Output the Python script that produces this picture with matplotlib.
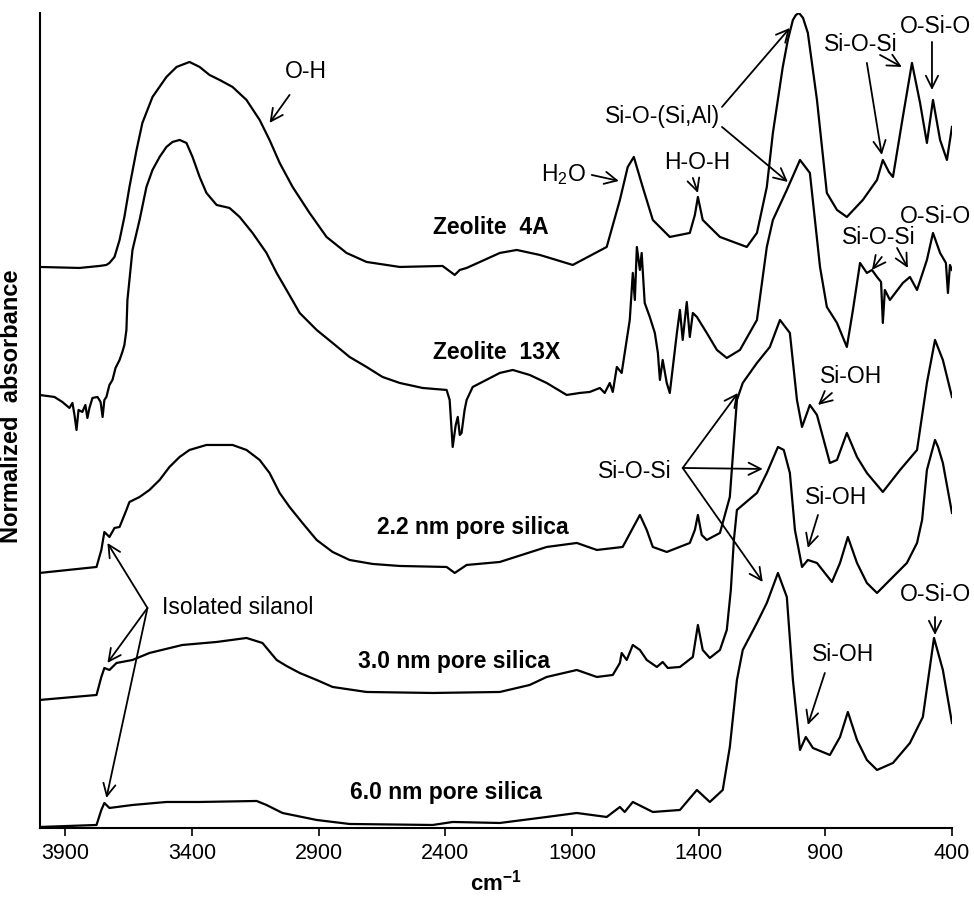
import matplotlib
matplotlib.use("Agg")
import matplotlib.pyplot as plt

plt.rcParams['font.family'] = ['Liberation Sans', 'DejaVu Sans']
plt.rcParams['mathtext.fontset'] = 'custom'
plt.rcParams['mathtext.rm'] = 'Liberation Sans'
plt.rcParams['mathtext.bf'] = 'Liberation Sans:bold'

# FTIR spectra (wavenumber in cm-1, stacked normalized absorbance)
wn_4a = [4002, 3844, 3765, 3738, 3726, 3706, 3686, 3667, 3647, 3619, 3596, 3556, 3501,
         3461, 3410, 3370, 3331, 3291, 3240, 3185, 3133, 3094, 3054, 3003, 2936, 2869,
         2790, 2711, 2580, 2411, 2363, 2343, 2316, 2185, 2118, 2027, 1897,
         1763, 1711, 1680, 1656, 1621, 1581, 1514, 1435, 1415, 1403, 1384, 1316, 1210,
         1170, 1131, 1107, 1068, 1048, 1028, 1016, 1004, 988, 969, 933, 894, 854, 815, 752,
         696, 673, 649, 633, 594, 558, 526, 499, 475, 447, 420, 400]
abs_4a = [5.61, 5.60, 5.62, 5.63, 5.65, 5.71, 5.88, 6.11, 6.41, 6.78, 7.05, 7.31, 7.51,
          7.61, 7.66, 7.61, 7.53, 7.48, 7.41, 7.28, 7.08, 6.88, 6.65, 6.41, 6.15, 5.91,
          5.75, 5.66, 5.61, 5.62, 5.53, 5.58, 5.60, 5.75, 5.78, 5.73, 5.63,
          5.81, 6.28, 6.61, 6.71, 6.41, 6.08, 5.91, 5.95, 6.13, 6.31, 6.08, 5.91, 5.81,
          5.95, 6.41, 6.95, 7.61, 7.88, 8.08, 8.13, 8.15, 8.10, 7.95, 7.28, 6.35, 6.18, 6.11, 6.28,
          6.48, 6.68, 6.56, 6.51, 7.11, 7.65, 7.25, 6.85, 7.28, 6.88, 6.68, 7.01]

wn_13x = [4002, 3943, 3912, 3884, 3872, 3864, 3856, 3848, 3833, 3821, 3813, 3805, 3793,
          3773, 3761, 3753, 3746, 3738, 3726, 3714, 3702, 3686, 3675, 3667, 3659, 3655,
          3647, 3635, 3607, 3580, 3556, 3528, 3501, 3477, 3449, 3422, 3398, 3370, 3343,
          3303, 3252, 3212, 3161, 3106, 3066, 3027, 2975, 2908, 2845, 2778, 2711, 2648,
          2580, 2490, 2395, 2383, 2371, 2359, 2351,
          2343, 2336, 2324, 2316, 2292, 2185, 2134, 2067, 2000, 1921, 1869, 1830, 1790,
          1771, 1751, 1739, 1723, 1704, 1692, 1672, 1660, 1652, 1644, 1632, 1625, 1613,
          1593, 1573, 1561, 1553, 1542, 1526, 1514, 1502, 1486, 1474, 1463, 1447, 1435,
          1423, 1407, 1368, 1328, 1289, 1237, 1170, 1131, 1107, 1052, 1000, 961, 921, 894,
          854, 815, 791, 763, 736, 716, 696, 680, 673, 665, 645, 594, 566, 538, 499, 475,
          447, 424, 416, 408, 400]
abs_13x = [4.33, 4.31, 4.26, 4.20, 4.25, 4.13, 3.98, 4.18, 4.16, 4.23, 4.10, 4.20, 4.30,
           4.31, 4.26, 4.11, 4.28, 4.31, 4.43, 4.48, 4.60, 4.68, 4.76, 4.83, 4.98, 5.28,
           5.48, 5.78, 6.08, 6.41, 6.58, 6.71, 6.81, 6.86, 6.88, 6.85, 6.71, 6.51, 6.35,
           6.23, 6.20, 6.11, 5.95, 5.75, 5.55, 5.38, 5.15, 4.98, 4.85, 4.71, 4.61, 4.51,
           4.45, 4.40, 4.38, 4.28, 3.81, 4.03, 4.11,
           3.93, 3.95, 4.18, 4.28, 4.41, 4.55, 4.58, 4.53, 4.45, 4.33, 4.35, 4.36, 4.40,
           4.35, 4.45, 4.36, 4.61, 4.55, 4.75, 5.08, 5.55, 5.28, 5.81, 5.58, 5.75, 5.25,
           5.11, 4.95, 4.75, 4.48, 4.68, 4.45, 4.35, 4.61, 4.95, 5.18, 4.88, 5.26, 4.91,
           5.15, 5.11, 4.95, 4.78, 4.70, 4.78, 5.08, 5.81, 6.08, 6.38, 6.68, 6.55, 5.61, 5.21,
           5.05, 4.81, 5.18, 5.65, 5.55, 5.58, 5.51, 5.46, 5.05, 5.38, 5.28, 5.45, 5.51, 5.38,
           5.68, 5.95, 5.75, 5.65, 5.35, 5.63, 5.58]

wn_22 = [4002, 3777, 3758, 3746, 3734, 3726, 3706, 3686, 3659, 3647, 3607, 3568, 3528,
         3489, 3449, 3410, 3343, 3240, 3185, 3133, 3094, 3054, 3015, 2964, 2908, 2845,
         2778, 2687, 2580, 2395, 2363, 2316, 2185, 2000, 1881,
         1802, 1700, 1664, 1632, 1605, 1581, 1526, 1435, 1415, 1403, 1388, 1368, 1316,
         1277, 1249, 1226, 1170, 1119, 1079, 1040, 1012, 992, 961, 933, 882, 854, 815,
         775, 736, 673, 605, 538, 499, 467, 436, 400]
abs_22 = [2.55, 2.61, 2.78, 2.96, 2.93, 2.91, 3.00, 3.01, 3.18, 3.26, 3.31, 3.38, 3.48,
          3.61, 3.71, 3.78, 3.83, 3.83, 3.78, 3.68, 3.55, 3.35, 3.21, 3.05, 2.88, 2.76,
          2.68, 2.64, 2.62, 2.61, 2.55, 2.63, 2.66, 2.81, 2.85,
          2.78, 2.81, 2.98, 3.13, 2.98, 2.81, 2.76, 2.85, 2.98, 3.13, 2.93, 2.88, 2.95,
          3.31, 4.28, 4.45, 4.65, 4.81, 5.08, 4.95, 4.28, 4.01, 4.23, 4.13, 3.65, 3.68, 3.95,
          3.71, 3.55, 3.36, 3.58, 3.78, 4.45, 4.88, 4.68, 4.31]

wn_30 = [4002, 3777, 3758, 3746, 3726, 3698, 3635, 3568, 3438, 3303, 3185, 3122, 3066,
         3027, 2975, 2908, 2845, 2711, 2450, 2185, 2067, 2000, 1881, 1802, 1739, 1711,
         1704, 1684, 1660, 1632, 1605, 1565, 1542, 1522, 1474, 1423, 1403, 1384, 1356,
         1316, 1289, 1273, 1261, 1249, 1226, 1170, 1131, 1087, 1064, 1040, 1020, 992, 969,
         933, 874, 842, 811, 775, 736, 696, 645, 578, 538, 518, 499, 467, 455, 436, 400]
abs_30 = [1.28, 1.33, 1.51, 1.60, 1.58, 1.65, 1.68, 1.75, 1.83, 1.86, 1.90, 1.85, 1.68,
          1.62, 1.55, 1.48, 1.41, 1.36, 1.35, 1.36, 1.43, 1.51, 1.58, 1.51, 1.53, 1.65,
          1.75, 1.68, 1.83, 1.78, 1.68, 1.61, 1.66, 1.60, 1.61, 1.71, 2.03, 1.78, 1.70,
          1.78, 1.98, 2.38, 2.88, 3.18, 3.23, 3.35, 3.55, 3.81, 3.78, 3.55, 2.98, 2.61, 2.68,
          2.65, 2.46, 2.65, 2.91, 2.65, 2.45, 2.35, 2.48, 2.65, 2.85, 3.08, 3.58, 3.88, 3.81,
          3.65, 3.15]

wn_60 = [4002, 3777, 3758, 3746, 3726, 3635, 3501, 3370, 3145, 3106, 3043, 2908, 2778,
         2450, 2371, 2185, 2000, 1881, 1763, 1711, 1692, 1660, 1581, 1474, 1407, 1356,
         1305, 1277, 1249, 1226, 1170, 1131, 1087, 1052, 1028, 1000, 977, 949, 882, 842,
         811, 775, 736, 696, 633, 566, 515, 471, 436, 400]
abs_60 = [0.01, 0.03, 0.18, 0.25, 0.20, 0.23, 0.26, 0.26, 0.27, 0.23, 0.15, 0.08, 0.04,
          0.03, 0.06, 0.05, 0.11, 0.15, 0.11, 0.21, 0.16, 0.26, 0.16, 0.18, 0.38, 0.26,
          0.38, 0.81, 1.48, 1.78, 2.05, 2.25, 2.55, 2.31, 1.48, 0.78, 0.91, 0.80, 0.73, 0.91,
          1.16, 0.88, 0.68, 0.58, 0.65, 0.85, 1.11, 1.90, 1.58, 1.05]

sample_names = ['Zeolite  4A', 'Zeolite  13X', '2.2 nm pore silica',
                '3.0 nm pore silica', '6.0 nm pore silica']
x_ticks = [3900, 3400, 2900, 2400, 1900, 1400, 900, 400]

fig = plt.figure(figsize=(9.74, 8.99), dpi=100)
ax = fig.add_axes([0.0411, 0.0790, 0.9363, 0.9066])

spectra = [(wn_4a, abs_4a), (wn_13x, abs_13x), (wn_22, abs_22), (wn_30, abs_30), (wn_60, abs_60)]
for wn, a in spectra:
    ax.plot(wn, a, color='black', lw=1.6, solid_joinstyle='round')

ax.set_xlim(4000, 400)
ax.set_ylim(0, 8.15)
ax.set_xticks(x_ticks)
ax.tick_params(axis='x', direction='out', length=6, width=1.2, labelsize=15.5, pad=5)
ax.set_yticks([])
for s in ['top', 'right']:
    ax.spines[s].set_visible(False)
for s in ['left', 'bottom']:
    ax.spines[s].set_linewidth(1.5)
ax.set_xlabel(r'cm$^{\mathbf{-1}}$', fontsize=16, fontweight='bold', labelpad=4)
ax.set_ylabel('Normalized  absorbance', fontsize=17, fontweight='bold')
ax.yaxis.set_label_coords(-0.019, 0.518)

# sample labels
label_pos = [(2450, 6.00), (2450, 4.75), (2671, 3.00), (2746, 1.66), (2778, 0.35)]
for name, (lx, ly) in zip(sample_names, label_pos):
    ax.text(lx, ly, name, fontsize=16.5, fontweight='bold', ha='left', va='center')

arrow = dict(arrowstyle='->', color='black', lw=1.3, mutation_scale=22, shrinkA=0, shrinkB=0)
fs = 16.5

def note(text, xy_text, targets, start=None, **kw):
    ax.text(xy_text[0], xy_text[1], text, fontsize=fs, ha=kw.get('ha', 'center'), va='center')
    if start is None:
        return
    for t in targets:
        ax.annotate('', xy=t, xytext=start, arrowprops=arrow)

note('O-H', (2952, 7.56), [(3094, 7.05)], start=(3015, 7.33))
note('Si-O-(Si,Al)', (1542, 7.11), [])
ax.annotate('', xy=(1040, 8.00), xytext=(1308, 7.21), arrowprops=arrow)
ax.annotate('', xy=(1048, 6.46), xytext=(1308, 7.01), arrowprops=arrow)
note(r'H$_2$O', (1933, 6.53), [(1715, 6.47)], start=(1822, 6.53))
note('H-O-H', (1407, 6.65), [(1403, 6.35)], start=(1423, 6.50))
note('Si-O-Si', (759, 7.83), [])
ax.annotate('', xy=(677, 6.73), xytext=(736, 7.65), arrowprops=arrow)
ax.annotate('', xy=(598, 7.61), xytext=(684, 7.73), arrowprops=arrow)
note('O-Si-O', (467, 8.01), [(479, 7.38)], start=(479, 7.86))
note('O-Si-O', (467, 6.11), [])
note('Si-O-Si', (688, 5.90), [])
ax.annotate('', xy=(716, 5.58), xytext=(677, 5.71), arrowprops=arrow)
ax.annotate('', xy=(574, 5.60), xytext=(617, 5.80), arrowprops=arrow)
note('Si-OH', (799, 4.51), [(929, 4.23)], start=(874, 4.35))
note('Si-O-Si', (1652, 3.56), [(1245, 4.35), (1147, 3.59), (1147, 2.46)], start=(1463, 3.60))
note('Si-OH', (858, 3.30), [(969, 2.80)], start=(929, 3.13))
note('Si-OH', (831, 1.73), [(969, 1.03)], start=(902, 1.55))
note('O-Si-O', (467, 2.33), [(467, 1.93)], start=(467, 2.11))
note('Isolated silanol', (3517, 2.20), [(3734, 2.85), (3734, 1.65), (3738, 0.30)],
     start=(3576, 2.20), ha='left')

fig.savefig('out.png', dpi=100)
